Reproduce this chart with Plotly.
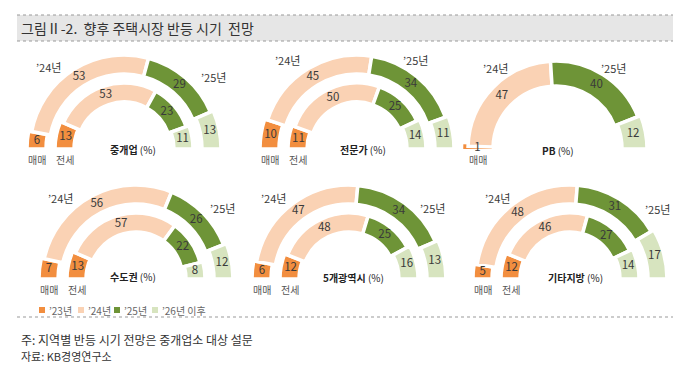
import plotly.graph_objects as go

# ---------------- data ----------------
chart_names = ["중개업", "전문가", "PB", "수도권", "5개광역시", "기타지방"]
periods = ["’23년", "’24년", "’25년", "’26년 이후"]
sale_vals = [            # 매매 (outer ring)
    [6, 53, 29, 13],
    [10, 45, 34, 11],
    [1, 47, 40, 12],
    [7, 56, 26, 12],
    [6, 47, 34, 13],
    [5, 48, 31, 17],
]
jeonse_vals = [          # 전세 (inner ring); None = not surveyed
    [13, 53, 23, 11],
    [11, 50, 25, 14],
    None,
    [13, 57, 22, 8],
    [12, 48, 25, 16],
    [12, 46, 27, 14],
]
ring_names = ["매매", "전세"]
title_text = "그림Ⅱ-2.\u00a0\u00a0향후 주택시장 반등 시기\u00a0\u00a0전망"
note_text = "주: 지역별 반등 시기 전망은 중개업소 대상 설문"
source_text = "자료: KB경영연구소"

# ---------------- styles / positions ----------------
W, H = 694, 379
colors = ["#F28E3F", "#FAD2B4", "#6E9437", "#D7E4BF"]
txt_col = "#3A3A3A"
FONT = "Noto Sans CJK KR"
centers = [(124, 149), (357, 149), (556, 149), (136, 279), (349, 279), (570, 279)]
yr_label_pos = [  # offsets of '24년 / '25년 labels from center
    ((-76, -82), (89, -72)),
    ((-70, -89), (58, -89)),
    ((-61, -81), (57, -81)),
    ((-76, -81), (86, -71)),
    ((-76, -81), (84, -71)),
    ((-73, -81), (87, -70)),
]
title_off = [(9, 0), (6, 0), (2, 1), (-3, -3), (4, -2), (5, -2)]
RMAX = 100
rings_two = [(75, 19), (47, 19)]  # (base radius, thickness)
ring_single = [(63, 25)]
EXPL = 3


def px(x):
    return x / W


def py(y):
    return 1 - y / H


fig = go.Figure()
annotations = []
shapes = []

for i, name in enumerate(chart_names):
    cx, cy = centers[i]
    pid = "polar" if i == 0 else f"polar{i+1}"
    sub = "polar" if i == 0 else f"polar{i+1}"
    series = [sale_vals[i]] + ([jeonse_vals[i]] if jeonse_vals[i] is not None else [])
    geoms = rings_two if len(series) == 2 else ring_single
    for k, vals in enumerate(series):
        base_r, thick = geoms[k]
        tot = sum(vals)
        widths, mids, cum = [], [], 0
        for v in vals:
            widths.append(v / tot * 180)
            mids.append((cum + v / 2) / tot * 180)
            cum += v
        bases = [base_r + (EXPL if j in (0, 3) else 0) for j in range(4)]
        line_cols = ["white" if v >= 3 else colors[j] for j, v in enumerate(vals)]
        fig.add_trace(go.Barpolar(
            r=[thick] * 4, base=bases, theta=mids, width=widths,
            marker=dict(color=colors, line=dict(color=line_cols, width=3.5)),
            subplot=sub, showlegend=False, hoverinfo="skip"))
        fig.add_trace(go.Scatterpolar(
            r=[b + thick / 2 for b in bases], theta=mids, text=[str(v) for v in vals],
            mode="text", textfont=dict(family=FONT, size=11.5, color=txt_col),
            subplot=sub, showlegend=False, hoverinfo="skip"))
        # ring label (매매 / 전세) under the first segment
        annotations.append(dict(
            x=px(cx - (base_r + EXPL + thick / 2)), y=py(cy + 10), xref="paper", yref="paper",
            text=ring_names[k], showarrow=False, xanchor="center", yanchor="middle",
            font=dict(family=FONT, size=10, color="#555555")))
    fig.update_layout(**{pid: dict(
        domain=dict(x=[px(cx - RMAX), px(cx + RMAX)], y=[py(cy), py(cy - RMAX)]),
        sector=[0, 180], bgcolor="rgba(0,0,0,0)",
        radialaxis=dict(range=[0, RMAX], visible=False),
        angularaxis=dict(rotation=180, direction="clockwise", visible=False))})
    (ax1, ay1), (ax2, ay2) = yr_label_pos[i]
    for (ox, oy), lab in (((ax1, ay1), periods[1]), ((ax2, ay2), periods[2])):
        annotations.append(dict(
            x=px(cx + ox), y=py(cy + oy), xref="paper", yref="paper", text=lab,
            showarrow=False, xanchor="center", yanchor="middle",
            font=dict(family=FONT, size=11, color=txt_col)))
    tx, ty = title_off[i]
    annotations.append(dict(
        x=px(cx + tx), y=py(cy + ty), xref="paper", yref="paper",
        text=f"<b>{name}</b> (%)", showarrow=False, xanchor="center", yanchor="middle",
        font=dict(family=FONT, size=10, color="#222222")))

# legend (custom)
leg_x = [42, 81, 117, 155]
leg_y = 310
for j, lab in enumerate(periods):
    shapes.append(dict(type="rect", xref="paper", yref="paper",
                       x0=px(leg_x[j] - 3), x1=px(leg_x[j] + 3),
                       y0=py(leg_y + 3), y1=py(leg_y - 3),
                       fillcolor=colors[j], line=dict(width=0)))
    annotations.append(dict(x=px(leg_x[j] + 5), y=py(leg_y), xref="paper", yref="paper",
                            text=lab, showarrow=False, xanchor="left", yanchor="middle",
                            font=dict(family=FONT, size=10, color="#666666")))

# title band
shapes.append(dict(type="rect", xref="paper", yref="paper", x0=px(17), x1=px(673),
                   y0=py(41), y1=py(15), fillcolor="#E6E6E6", line=dict(width=0), layer="below"))
for yy in (15, 41):
    shapes.append(dict(type="line", xref="paper", yref="paper", x0=px(17), x1=px(673),
                       y0=py(yy), y1=py(yy), line=dict(color="#9A9A9A", width=1.2, dash="dot")))
annotations.append(dict(x=px(19), y=py(28), xref="paper", yref="paper", text=title_text,
                        showarrow=False, xanchor="left", yanchor="middle",
                        font=dict(family=FONT, size=14, color="#333333")))
# footer
shapes.append(dict(type="line", xref="paper", yref="paper", x0=px(17), x1=px(673),
                   y0=py(317), y1=py(317), line=dict(color="#9A9A9A", width=1.2, dash="dot")))
annotations.append(dict(x=px(19), y=py(339), xref="paper", yref="paper", text=note_text,
                        showarrow=False, xanchor="left", yanchor="middle",
                        font=dict(family=FONT, size=12, color="#333333")))
annotations.append(dict(x=px(19), y=py(356), xref="paper", yref="paper", text=source_text,
                        showarrow=False, xanchor="left", yanchor="middle",
                        font=dict(family=FONT, size=11, color="#333333")))

fig.update_layout(width=W, height=H, margin=dict(l=0, r=0, t=0, b=0),
                  paper_bgcolor="white", plot_bgcolor="white",
                  annotations=annotations, shapes=shapes, showlegend=False)
fig.write_html("out.html")
